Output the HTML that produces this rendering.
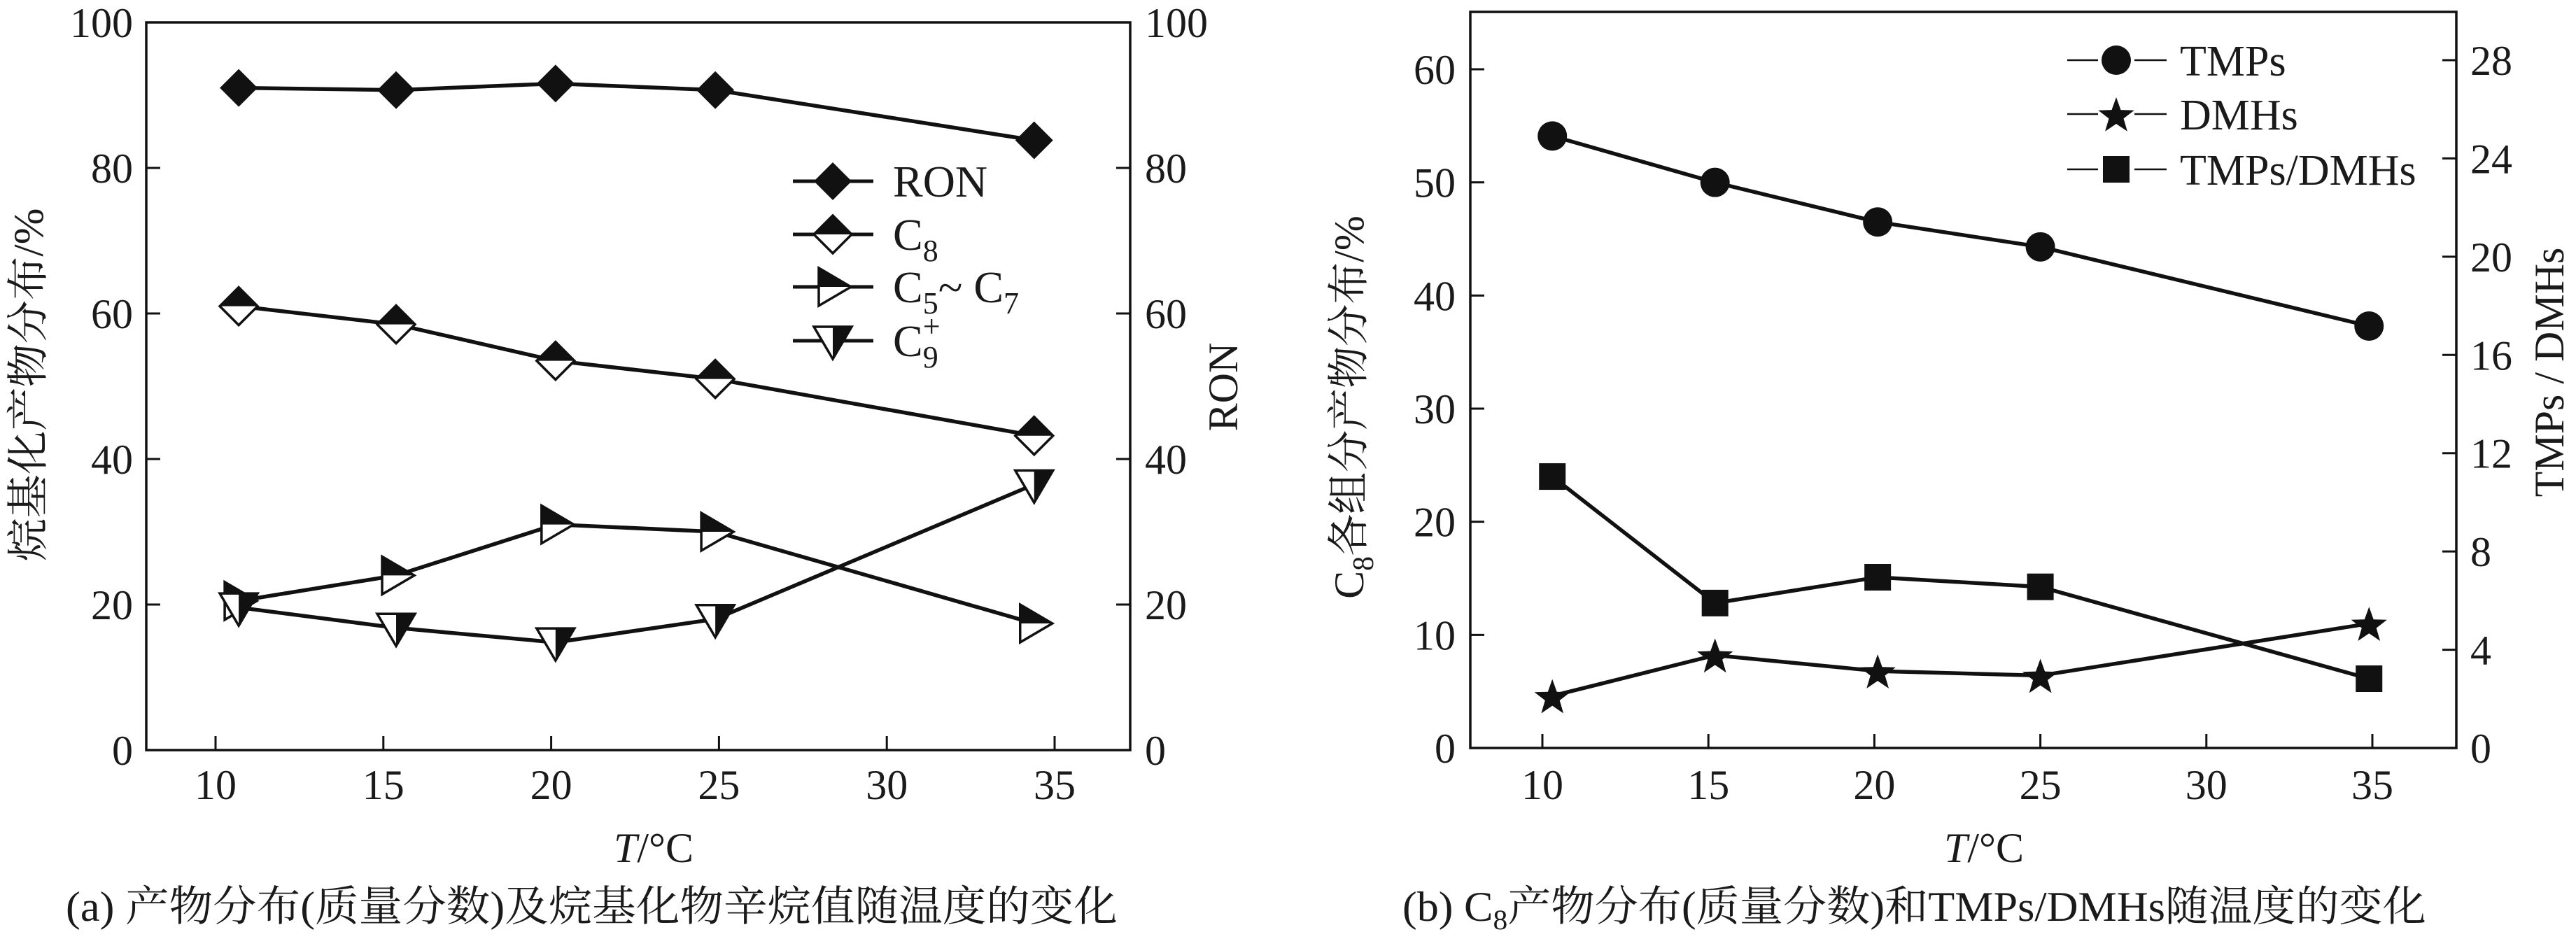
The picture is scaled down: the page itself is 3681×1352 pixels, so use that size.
<!DOCTYPE html>
<html><head><meta charset="utf-8"><style>
html,body{margin:0;padding:0;background:#fff;}
svg{display:block;}
text{font-family:"Liberation Serif","Noto Serif CJK SC",serif;fill:#1a1a1a;}
</style></head><body>
<svg id="fig" width="3681" height="1352" viewBox="0 0 3681 1352" xmlns="http://www.w3.org/2000/svg">
<g id="pa"></g>
<g id="pb"></g>
<text x="94" y="1316" font-size="60" textLength="1503" lengthAdjust="spacingAndGlyphs">(a) 产物分布(质量分数)及烷基化物辛烷值随温度的变化</text>
<text x="2004" y="1316" font-size="60" textLength="1463" lengthAdjust="spacingAndGlyphs">(b) C<tspan font-size="40" dy="12">8</tspan><tspan dy="-12">产物分布(质量分数)和TMPs/DMHs随温度的变化</tspan></text>
</svg>
<script>
// ---- chart (a) data ----
const tA = [10.69, 15.38, 20.13, 24.89, 34.39];
const ronVals = [91.0, 90.7, 91.6, 90.7, 83.8];
const c8Vals = [61.0, 58.5, 53.5, 51.0, 43.2];
const c57Vals = [20.5, 24.0, 31.0, 30.0, 17.4];
const c9Vals = [19.6, 16.8, 14.8, 18.0, 36.5];
const xTicksA = [10, 15, 20, 25, 30, 35];
const yTicksA = [0, 20, 40, 60, 80, 100];
// ---- chart (b) data ----
const tB = [10.3, 15.2, 20.1, 25.0, 34.9];
const tmpVals = [54.1, 50.0, 46.5, 44.3, 37.3];
const dmhVals = [4.6, 8.2, 6.8, 6.4, 11.0];
const ratioVals = [11.05, 5.9, 6.95, 6.56, 2.82];
const xTicksB = [10, 15, 20, 25, 30, 35];
const yTicksB = [0, 10, 20, 30, 40, 50, 60];
const yTicksB2 = [0, 4, 8, 12, 16, 20, 24, 28];

const NS = "http://www.w3.org/2000/svg";
function mk(parent, tag, attrs, txt){
  const e = document.createElementNS(NS, tag);
  for (const k in attrs) e.setAttribute(k, attrs[k]);
  if (txt !== undefined) e.textContent = txt;
  parent.appendChild(e); return e;
}
function lin(d0,d1,r0,r1){ return v => r0 + (v-d0)*(r1-r0)/(d1-d0); }

// marker drawing
function marker(g, type, cx, cy){
  const k = document.createElementNS(NS,'g');
  
  
  g.appendChild(k);
  const r = 27;
  if (type==='diamond'){
    mk(k,'polygon',{points:`${cx},${cy-r} ${cx+r},${cy} ${cx},${cy+r} ${cx-r},${cy}`,fill:'#111'});
  } else if (type==='halfdiamond'){
    mk(k,'polygon',{points:`${cx},${cy-r} ${cx+r},${cy} ${cx},${cy+r} ${cx-r},${cy}`,fill:'#fff',stroke:'#111','stroke-width':3.5});
    mk(k,'polygon',{points:`${cx},${cy-r} ${cx+r},${cy} ${cx-r},${cy}`,fill:'#111'});
  } else if (type==='right'){
    const a=[cx-20,cy-27], b=[cx-20,cy+27], c=[cx+26,cy];
    mk(k,'polygon',{points:`${a} ${b} ${c}`,fill:'#fff',stroke:'#111','stroke-width':3.5});
    mk(k,'polygon',{points:`${a} ${cx-20},${cy} ${c}`,fill:'#111'});
  } else if (type==='down'){
    const a=[cx-27,cy-20], b=[cx+27,cy-20], c=[cx,cy+26];
    mk(k,'polygon',{points:`${a} ${b} ${c}`,fill:'#fff',stroke:'#111','stroke-width':3.5});
    mk(k,'polygon',{points:`${cx},${cy-20} ${b} ${c}`,fill:'#111'});
  } else if (type==='circle'){
    mk(k,'circle',{cx:cx,cy:cy,r:21,fill:'#111'});
  } else if (type==='square'){
    mk(k,'rect',{x:cx-19,y:cy-19,width:38,height:38,fill:'#111'});
  } else if (type==='star'){
    let p=[];
    for(let i=0;i<10;i++){const rr=i%2?11:27;const an=-Math.PI/2+i*Math.PI/5;p.push((cx+rr*Math.cos(an)).toFixed(1)+','+(cy+rr*Math.sin(an)+3).toFixed(1));}
    mk(k,'polygon',{points:p.join(' '),fill:'#111'});
  }
}
function series(g, name, xs, ys, sx, sy, type){
  const s = document.createElementNS(NS,'g');
  
  
  g.appendChild(s);
  const pts = xs.map((x,i)=>sx(x).toFixed(1)+','+sy(ys[i]).toFixed(1)).join(' ');
  mk(s,'polyline',{points:pts,fill:'none',stroke:'#111','stroke-width':5.5,'stroke-linejoin':'round'});
  xs.forEach((x,i)=>marker(s,type,sx(x),sy(ys[i])));
}

// ---------- chart A ----------
(function(){
  const g = document.getElementById('pa');
  const L=209,R=1615,T=32,B=1072;
  const sx = lin(10,35,308,1507);
  const sy = lin(0,100,B,T);
  mk(g,'rect',{x:L,y:T,width:R-L,height:B-T,fill:'none',stroke:'#111','stroke-width':3.5});
  xTicksA.forEach(v=>{
    const t=mk(g,'line',{x1:sx(v),x2:sx(v),y1:B,y2:B-20,stroke:'#111','stroke-width':3});
    const l=mk(g,'text',{x:sx(v),y:1142,'font-size':60,'text-anchor':'middle'},String(v));
    
    
  });
  yTicksA.forEach(v=>{
    mk(g,'line',{x1:L,x2:L+20,y1:sy(v),y2:sy(v),stroke:'#111','stroke-width':3});
    mk(g,'line',{x1:R,x2:R-20,y1:sy(v),y2:sy(v),stroke:'#111','stroke-width':3});
    const l=mk(g,'text',{x:190,y:sy(v)+21,'font-size':60,'text-anchor':'end'},String(v));
    
    
    const r=mk(g,'text',{x:1636,y:sy(v)+21,'font-size':60,'text-anchor':'start'},String(v));
    
    
  });
  const yt=mk(g,'text',{transform:'translate(61,550) rotate(-90)','font-size':60,'text-anchor':'middle',textLength:505,lengthAdjust:'spacingAndGlyphs'},'烷基化产物分布/%');
  
  
  const y2=mk(g,'text',{transform:'translate(1768,553) rotate(-90)','font-size':60,'text-anchor':'middle'},'RON');
  
  
  const xt=mk(g,'text',{x:934,y:1232,'font-size':60,'text-anchor':'middle'});
  xt.innerHTML='<tspan font-style="italic">T</tspan>/°C';
  
  

  series(g,'series-ron',tA,ronVals,sx,sy,'diamond');
  series(g,'series-c8',tA,c8Vals,sx,sy,'halfdiamond');
  series(g,'series-c5-c7',tA,c57Vals,sx,sy,'right');
  series(g,'series-c9plus',tA,c9Vals,sx,sy,'down');

  // legend
  const lg = document.createElementNS(NS,'g');
  
  
  g.appendChild(lg);
  const items=[['diamond','RON',259],['halfdiamond','C8',335],['right','C5~C7',410],['down','C9+',487]];
  items.forEach(it=>{
    const e=document.createElementNS(NS,'g');
    
    
    lg.appendChild(e);
    mk(e,'line',{x1:1133,x2:1248,y1:it[2],y2:it[2],stroke:'#111','stroke-width':5});
    marker(e,it[0],1190,it[2]);
    const t=mk(e,'text',{x:1276,y:it[2]+22,'font-size':64});
    if(it[1]==='RON') t.textContent='RON';
    else if(it[1]==='C8') t.innerHTML='C<tspan font-size="44" dy="16">8</tspan>';
    else if(it[1]==='C5~C7') t.innerHTML='C<tspan font-size="44" dy="16">5</tspan><tspan dy="-16">~ C</tspan><tspan font-size="44" dy="16">7</tspan>';
    else t.innerHTML='C<tspan font-size="44" dy="16">9</tspan><tspan font-size="44" dx="-22" dy="-44">+</tspan>';
  });
})();

// ---------- chart B ----------
(function(){
  const g = document.getElementById('pb');
  const L=2101,R=3510,T=17,B=1069;
  const sx = lin(10,35,2204,3390);
  const sy = lin(0,60,B,99);
  const sy2 = lin(0,28,B,86);
  mk(g,'rect',{x:L,y:T,width:R-L,height:B-T,fill:'none',stroke:'#111','stroke-width':3.5});
  xTicksB.forEach(v=>{
    mk(g,'line',{x1:sx(v),x2:sx(v),y1:B,y2:B-20,stroke:'#111','stroke-width':3});
    const l=mk(g,'text',{x:sx(v),y:1142,'font-size':60,'text-anchor':'middle'},String(v));
    
    
  });
  yTicksB.forEach(v=>{
    mk(g,'line',{x1:L,x2:L+20,y1:sy(v),y2:sy(v),stroke:'#111','stroke-width':3});
    const l=mk(g,'text',{x:2080,y:sy(v)+21,'font-size':60,'text-anchor':'end'},String(v));
    
    
  });
  yTicksB2.forEach(v=>{
    mk(g,'line',{x1:R,x2:R-20,y1:sy2(v),y2:sy2(v),stroke:'#111','stroke-width':3});
    const r=mk(g,'text',{x:3530,y:sy2(v)+21,'font-size':60,'text-anchor':'start'},String(v));
    
    
  });
  const yt=mk(g,'text',{transform:'translate(1948,582) rotate(-90)','font-size':60,'text-anchor':'middle'});
  yt.innerHTML='C<tspan font-size="42" dy="14">8</tspan><tspan dy="-14">各组分产物分布/%</tspan>';
  
  
  const y2=mk(g,'text',{transform:'translate(3663,532) rotate(-90)','font-size':60,'text-anchor':'middle'},'TMPs / DMHs');
  
  
  const xt=mk(g,'text',{x:2835,y:1232,'font-size':60,'text-anchor':'middle'});
  xt.innerHTML='<tspan font-style="italic">T</tspan>/°C';
  
  

  series(g,'series-tmps',tB,tmpVals,sx,sy,'circle');
  series(g,'series-dmhs',tB,dmhVals,sx,sy,'star');
  series(g,'series-tmps-dmhs-ratio',tB,ratioVals,sx,sy2,'square');

  const lg = document.createElementNS(NS,'g');
  
  
  g.appendChild(lg);
  [['circle','TMPs',86],['star','DMHs',163],['square','TMPs/DMHs',242]].forEach(it=>{
    const e=document.createElementNS(NS,'g');
    
    
    lg.appendChild(e);
    mk(e,'line',{x1:2954,x2:3096,y1:it[2],y2:it[2],stroke:'#111','stroke-width':2.5});
    mk(e,'rect',{x:2998,y:it[2]-26,width:52,height:52,fill:'#fff'});
    marker(e,it[0],3024,it[2]);
    mk(e,'text',{x:3115,y:it[2]+22,'font-size':62},it[1]);
  });
})();
</script>
</body></html>
